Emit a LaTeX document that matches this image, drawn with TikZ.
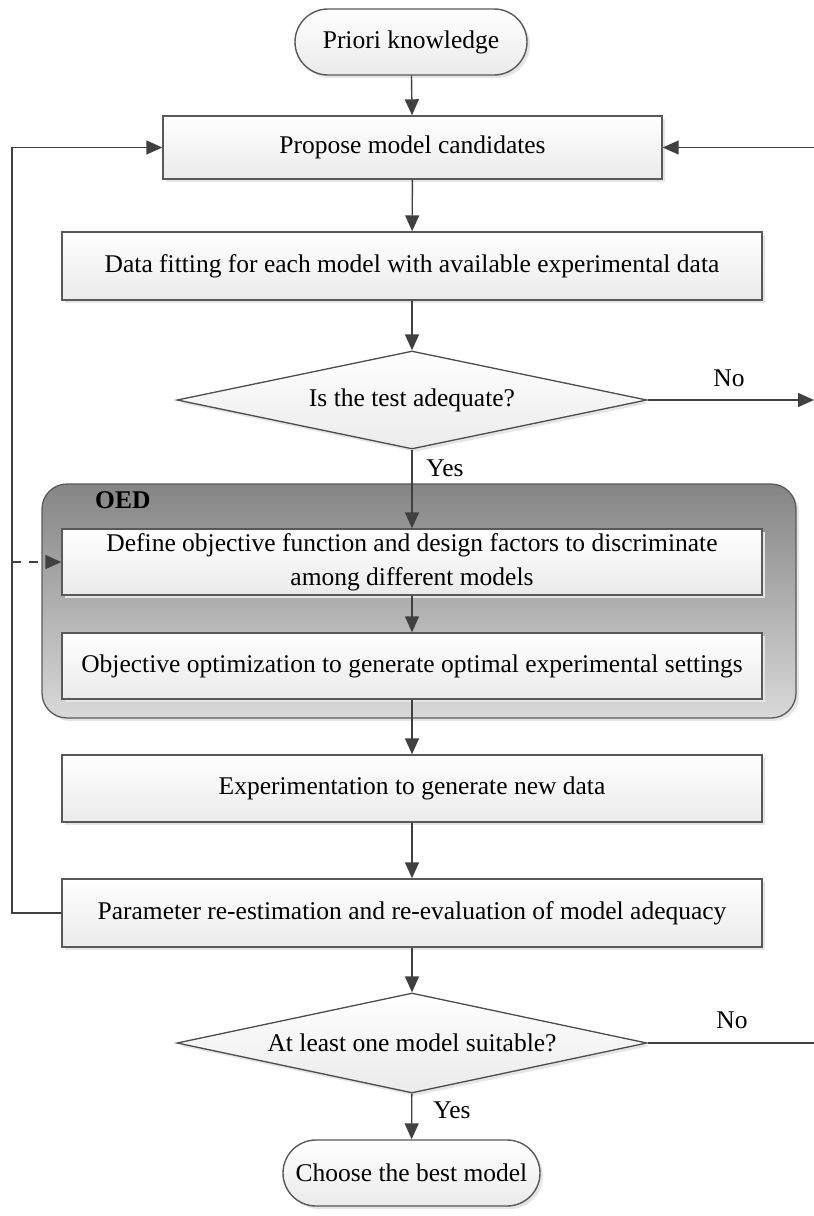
\documentclass[tikz,border=0pt]{standalone}
\usepackage{fontspec}
\setmainfont{Liberation Serif}
\usetikzlibrary{shapes.geometric,arrows.meta,shadows}
\begin{document}
\begin{tikzpicture}[x=1pt,y=-1pt,
  font=\fontsize{25.5}{30}\selectfont,
  lin/.style={draw=black!75,line width=1.4pt},
  arr/.style={lin,-{Triangle[length=16pt,width=14pt]}},
  boxshadow/.style={drop shadow={shadow xshift=3pt,shadow yshift=-3pt,fill=black!10,opacity=1}},
  stepbox/.style={draw=black!65,line width=1.4pt,top color=white,bottom color=black!8,
     boxshadow,inner sep=0pt,align=center,minimum height=66pt},
  pill/.style={stepbox,rounded corners=33pt},
  decision/.style={diamond,draw=black!70,line width=1.3pt,top color=white,bottom color=black!8,
     boxshadow,inner sep=0pt,aspect=4.8,minimum width=470pt},
  lbl/.style={inner sep=0pt}
]
\useasboundingbox (0,0) rectangle (814,1216);

% OED group
\node[draw=black!65,line width=1.3pt,rounded corners=25pt,top color=black!48,bottom color=black!15,
      minimum width=754pt,minimum height=234pt,inner sep=0pt,boxshadow] (oed) at (419,601) {};
\node[lbl,font=\fontsize{25.5}{30}\selectfont\bfseries,anchor=west] (oedt) at (95,500) {OED};

\node[pill,minimum width=232pt] (pk) at (411,42) {Priori knowledge};
\node[stepbox,minimum width=499pt,minimum height=63pt] (prop) at (412.5,147.5) {Propose model candidates};
\node[stepbox,minimum width=700pt,minimum height=68pt] (fit) at (412,266) {Data fitting for each model with available experimental data};
\node[decision,minimum height=98pt] (d1) at (412,400) {Is the test adequate?};
\node[stepbox,minimum width=700pt,font=\fontsize{25.5}{34}\selectfont] (def) at (412,562) {Define objective function and design factors to discriminate\\among different models};
\node[stepbox,minimum width=700pt] (obj) at (412,666) {Objective optimization to generate optimal experimental settings};
\node[stepbox,minimum width=700pt,minimum height=67pt] (exp) at (412,788.5) {Experimentation to generate new data};
\node[stepbox,minimum width=700pt,minimum height=68pt] (par) at (412,913) {Parameter re-estimation and re-evaluation of model adequacy};
\node[decision,minimum height=100pt] (d2) at (412,1043) {At least one model suitable?};
\node[pill,minimum width=257pt] (ch) at (411.5,1173) {Choose the best model};

% coordinates
\coordinate (rin) at (814,147.5);
\coordinate (rno) at (814,400);
\coordinate (rno2) at (814,1043);
\coordinate (lb) at (12,913);
\coordinate (lt) at (12,147.5);
\coordinate (ld) at (12,562);

% connectors
\draw[arr] (pk) -- (prop);
\draw[arr] (prop) -- (fit);
\draw[arr] (fit) -- (d1);
\draw[arr] (d1) -- (def);
\draw[arr] (def) -- (obj);
\draw[arr] (obj) -- (exp);
\draw[arr] (exp) -- (par);
\draw[arr] (par) -- (d2);
\draw[arr] (d2) -- (ch);
\draw[arr] (d1.east) -- (rno);
\draw[lin] (d2.east) -- (rno2);
\draw[arr] (rin) -- (prop.east);
\draw[arr] (par.west) -- (lb) -- (lt) -- (prop.west);
\draw[arr,dashed,dash pattern=on 9pt off 8pt] (ld) -- (def.west);

% labels
\node[lbl] (no1) at (729,378) {No};
\node[lbl] (no2) at (732,1020) {No};
\node[lbl] (yes1) at (445,468) {Yes};
\node[lbl] (yes2) at (452,1110) {Yes};
\end{tikzpicture}
\end{document}
